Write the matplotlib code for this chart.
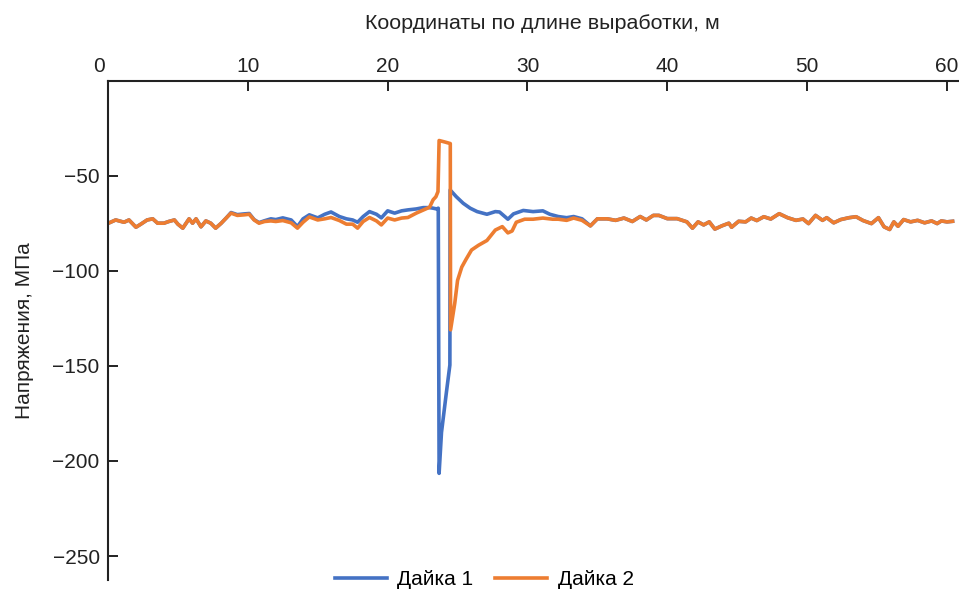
"""Напряжения вдоль выработки для двух даек."""

import matplotlib
from matplotlib import transforms

matplotlib.use("Agg")
from matplotlib import pyplot as plt  # noqa: E402

# Дайка 2 (оранжевая)
x_dyke2 = [
    0.0, 0.55, 1.15, 1.5, 2.0, 2.35, 2.8, 3.2, 3.55, 4.0, 4.35, 4.75, 5.0,
    5.35, 5.8, 6.05, 6.3, 6.65, 7.0, 7.35, 7.7, 8.1, 8.45, 8.8, 9.25, 9.75,
    10.1, 10.45, 10.8, 11.2, 11.65, 12.0, 12.5, 13.1, 13.55, 13.95, 14.4,
    15.0, 15.5, 15.95, 16.55, 17.05, 17.5, 17.85, 18.25, 18.7, 19.2, 19.55,
    20.0, 20.5, 21.0, 21.45, 22.05, 22.55, 23.0, 23.25, 23.45, 23.6, 23.68,
    24.1, 24.48, 24.5, 24.8, 25.0, 25.3, 25.6, 26.0, 26.5, 27.1, 27.7, 28.2,
    28.6, 28.9, 29.2, 29.8, 30.4, 31.1, 31.8, 32.2, 32.8, 33.3, 33.9, 34.5,
    35.0, 35.7, 36.3, 36.9, 37.5, 38.06, 38.5, 39.0, 39.4, 40.0, 40.7, 41.4,
    41.8, 42.2, 42.6, 43.0, 43.4, 43.9, 44.4, 44.6, 45.1, 45.6, 46.0, 46.4,
    46.9, 47.4, 48.0, 48.6, 49.2, 49.7, 50.1, 50.6, 51.1, 51.4, 51.9, 52.4,
    53.0, 53.5, 54.0, 54.6, 55.1, 55.5, 55.9, 56.2, 56.5, 56.9, 57.4, 57.9,
    58.4, 58.9, 59.3, 59.6, 60.0, 60.4,
]
y_dyke2 = [
    -75.0, -73.2, -74.4, -73.2, -77.0, -75.4, -73.2, -72.6, -74.9, -74.9,
    -74.0, -73.2, -75.4, -77.5, -72.6, -74.9, -72.6, -76.8, -73.7, -74.9,
    -77.5, -74.9, -72.2, -69.6, -70.8, -70.5, -70.2, -73.2, -74.9, -74.0,
    -73.7, -74.0, -73.5, -74.7, -77.5, -74.4, -71.6, -73.2, -72.6, -71.9,
    -73.5, -75.4, -75.4, -77.5, -74.0, -71.9, -73.7, -75.8, -72.2, -73.2,
    -72.2, -71.9, -69.6, -68.0, -66.5, -62.6, -61.0, -58.3, -31.4, -32.2,
    -33.0, -131.0, -117.0, -105.0, -98.0, -94.0, -89.0, -86.5, -84.0, -78.5,
    -76.7, -80.0, -79.0, -74.4, -72.8, -72.8, -72.2, -72.8, -72.8, -73.4,
    -72.2, -73.4, -76.3, -72.6, -72.6, -73.4, -72.2, -74.0, -71.4, -73.2,
    -70.8, -70.8, -72.5, -72.5, -74.2, -77.5, -74.2, -75.8, -74.2, -78.0,
    -76.3, -74.9, -77.0, -73.9, -74.2, -72.2, -73.5, -71.5, -72.7, -69.9,
    -72.0, -73.4, -72.7, -75.1, -70.8, -73.4, -72.0, -74.7, -73.0, -72.0,
    -71.5, -73.5, -75.1, -72.0, -76.8, -78.2, -74.2, -76.5, -73.0, -74.2,
    -73.4, -74.7, -73.7, -75.1, -73.7, -74.2, -73.9,
]

# Дайка 1 (синяя)
x_dyke1 = [
    0.0, 0.55, 1.15, 1.5, 2.0, 2.35, 2.8, 3.2, 3.55, 4.0, 4.35, 4.75, 5.0,
    5.35, 5.8, 6.05, 6.3, 6.65, 7.0, 7.35, 7.7, 8.1, 8.45, 8.8, 9.25, 9.75,
    10.1, 10.45, 10.8, 11.2, 11.65, 12.0, 12.5, 13.1, 13.55, 13.95, 14.4,
    15.0, 15.5, 15.95, 16.55, 17.05, 17.5, 17.85, 18.25, 18.7, 19.2, 19.55,
    20.0, 20.5, 21.0, 21.45, 22.05, 22.55, 23.0, 23.25, 23.5, 23.62, 23.68,
    23.85, 24.2, 24.45, 24.47, 24.9, 25.4, 25.9, 26.4, 27.1, 27.7, 28.0,
    28.6, 29.0, 29.7, 30.4, 31.1, 31.6, 32.2, 32.8, 33.3, 33.9, 34.5,
    35.0, 35.7, 36.3, 36.9, 37.5, 38.06, 38.5, 39.0, 39.4, 40.0, 40.7, 41.4,
    41.8, 42.2, 42.6, 43.0, 43.4, 43.9, 44.4, 44.6, 45.1, 45.6, 46.0, 46.4,
    46.9, 47.4, 48.0, 48.6, 49.2, 49.7, 50.1, 50.6, 51.1, 51.4, 51.9, 52.4,
    53.0, 53.5, 54.0, 54.6, 55.1, 55.5, 55.9, 56.2, 56.5, 56.9, 57.4, 57.9,
    58.4, 58.9, 59.3, 59.6, 60.0, 60.4,
]
y_dyke1 = [
    -75.0, -73.2, -74.4, -73.2, -77.0, -75.4, -73.2, -72.6, -74.9, -74.9,
    -74.0, -73.2, -75.4, -77.5, -72.6, -74.9, -72.6, -76.8, -73.7, -74.9,
    -77.5, -74.9, -72.2, -69.3, -70.4, -70.0, -69.8, -73.0, -74.6, -73.6,
    -72.6, -73.0, -72.1, -73.2, -76.7, -72.6, -70.5, -72.1, -70.2, -69.0,
    -71.4, -72.6, -73.2, -74.4, -71.4, -68.8, -70.2, -72.1, -68.4, -69.6,
    -68.4, -67.9, -67.4, -66.7, -66.7, -67.0, -67.4, -67.0, -206.5, -185.0,
    -164.0, -149.5, -57.4, -60.9, -64.4, -67.0, -68.8, -70.2, -68.8, -69.0,
    -72.8, -70.0, -68.2, -68.8, -68.4, -70.2, -71.4, -72.0, -71.4, -72.6,
    -76.3, -72.6, -72.6, -73.4, -72.2, -74.0, -71.4, -73.2, -70.8, -70.8,
    -72.5, -72.5, -74.2, -77.5, -74.2, -75.8, -74.2, -78.0, -76.3, -74.9,
    -77.0, -73.9, -74.2, -72.2, -73.5, -71.5, -72.7, -69.9, -72.0, -73.4,
    -72.7, -75.1, -70.8, -73.4, -72.0, -74.7, -73.0, -72.0, -71.5, -73.5,
    -75.1, -72.0, -76.8, -78.2, -74.2, -76.5, -73.0, -74.2, -73.4, -74.7,
    -73.7, -75.1, -73.7, -74.2, -73.9,
]

x_ticks = [0, 10, 20, 30, 40, 50, 60]
y_ticks = [-250, -200, -150, -100, -50]

BLUE = "#4472C4"
ORANGE = "#ED7D31"
INK = "#222222"

plt.rcParams["font.family"] = ["Liberation Sans", "DejaVu Sans"]

fig = plt.figure(figsize=(9.59, 5.90), dpi=100)
ax = fig.add_axes([0.1126, 0.017, 0.8874, 0.846])

ax.plot(x_dyke1, y_dyke1, color=BLUE, linewidth=2.6, label="Дайка 1")
ax.plot(x_dyke2, y_dyke2, color=ORANGE, linewidth=2.6, label="Дайка 2")

ax.set_xlim(0, 60.86)
ax.set_ylim(-262.6, 0)
ax.xaxis.tick_top()
ax.xaxis.set_label_position("top")
ax.set_xticks(x_ticks)
ax.set_yticks(y_ticks)
ax.tick_params(direction="in", length=7, width=1.4, colors=INK,
               labelsize=15)
ax.tick_params(axis="x", pad=3.5)
ax.tick_params(axis="y", pad=6)
ax.set_xlabel("Координаты по длине выработки, м", fontsize=15.4,
              color=INK, labelpad=20)
ax.xaxis.label.set_x(0.51)
ax.set_ylabel("Напряжения, МПа", fontsize=15, color=INK, labelpad=13)

# подпись «0» сдвинута влево от угла осей, как в исходнике
zero_label = ax.get_xticklabels()[0]
zero_label.set_transform(
    zero_label.get_transform()
    + transforms.ScaledTranslation(-9 / 100, 0, fig.dpi_scale_trans)
)

for side in ("right", "bottom"):
    ax.spines[side].set_visible(False)
for side in ("top", "left"):
    ax.spines[side].set_color(INK)
    ax.spines[side].set_linewidth(1.5)

ax.legend(loc="center", bbox_to_anchor=(0.505, 0.018),
          bbox_transform=fig.transFigure, ncol=2, frameon=False,
          fontsize=15, handlelength=2.5, columnspacing=1.05,
          handletextpad=0.5)

fig.savefig("out.png", dpi=100, facecolor="white")
